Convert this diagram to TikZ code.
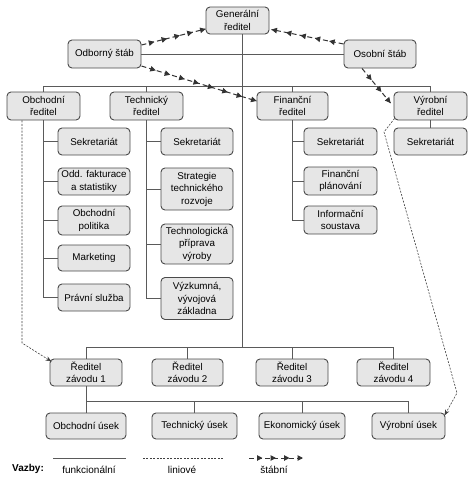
\documentclass[tikz,border=0pt]{standalone}
\usepackage{fontspec}
\setmainfont{Liberation Sans}
\usetikzlibrary{arrows.meta,decorations.markings,calc}
\definecolor{boxfill}{HTML}{E6E6E6}
\definecolor{boxline}{HTML}{4A4A4A}
\definecolor{lnc}{HTML}{5A5A5A}
\begin{document}
\begin{tikzpicture}[x=1pt,y=-1pt,
  box/.style={draw=boxline, fill=boxfill, rounded corners=4pt, line width=0.9pt, align=center, inner sep=1pt, font=\fontsize{9.8}{12.5}\selectfont},
  func/.style={draw=lnc, line width=0.8pt},
  lin/.style={draw=black!75, line width=0.6pt, dash pattern=on 2pt off 1.4pt, -{Stealth[length=6pt,width=4.5pt]}},
  stab/.style={draw=black!80, line width=1pt, dash pattern=on 5pt off 3pt, postaction={decorate},
    decoration={markings,
      mark=between positions #1 and 0.97 step #1 with {\arrow{Triangle[length=5.5pt,width=5.5pt]}},
      mark=at position 1 with {\arrow{Triangle[length=5.5pt,width=5.5pt]}}}},
  lbl/.style={font=\fontsize{10}{12}\selectfont, inner sep=0pt}
]
\useasboundingbox (0,0) rectangle (474,482);

% top level
\node[box, minimum width=63pt, minimum height=27pt] (gen) at (237.5,20.5) {Generální\\ředitel};
\node[box, minimum width=73pt, minimum height=28pt] (odb) at (104.5,54) {Odborný štáb};
\node[box, minimum width=72pt, minimum height=28pt] (oso) at (380,54) {Osobní štáb};

% directors
\node[box, minimum width=73pt, minimum height=28pt] (obr) at (43.5,106) {Obchodní\\ředitel};
\node[box, minimum width=73pt, minimum height=28pt] (tech) at (146.5,106) {Technický\\ředitel};
\node[box, minimum width=71pt, minimum height=28pt] (fin) at (292.5,106) {Finanční\\ředitel};
\node[box, minimum width=73pt, minimum height=28pt] (vyr) at (430.5,106) {Výrobní\\ředitel};

% Obchodni children
\node[box, minimum width=72pt, minimum height=27pt] (o1) at (94,141.5) {Sekretariát};
\node[box, minimum width=72pt, minimum height=27pt] (o2) at (94,181.5) {Odd. fakturace\\a statistiky};
\node[box, minimum width=72pt, minimum height=29pt] (o3) at (94,220.5) {Obchodní\\politika};
\node[box, minimum width=72pt, minimum height=26pt] (o4) at (94,258) {Marketing};
\node[box, minimum width=72pt, minimum height=27pt] (o5) at (94,297.5) {Právní služba};

% Technicky children
\node[box, minimum width=72pt, minimum height=27pt] (t1) at (197,141.5) {Sekretariát};
\node[box, minimum width=72pt, minimum height=42pt] (t2) at (197,189) {Strategie\\technického\\rozvoje};
\node[box, minimum width=72pt, minimum height=40pt] (t3) at (197,244) {Technologická\\příprava\\výroby};
\node[box, minimum width=72pt, minimum height=42pt] (t4) at (197,298.5) {Výzkumná,\\vývojová\\základna};

% Financni children
\node[box, minimum width=73pt, minimum height=27pt] (f1) at (340.5,141.5) {Sekretariát};
\node[box, minimum width=73pt, minimum height=28pt] (f2) at (340.5,181) {Finanční\\plánování};
\node[box, minimum width=73pt, minimum height=28pt] (f3) at (340.5,220) {Informační\\soustava};

% Vyrobni child
\node[box, minimum width=73pt, minimum height=27pt] (v1) at (430.5,141.5) {Sekretariát};

% plant directors
\node[box, minimum width=72pt, minimum height=27pt] (r1) at (86,372.5) {Ředitel\\závodu 1};
\node[box, minimum width=71pt, minimum height=27pt] (r2) at (187.5,372.5) {Ředitel\\závodu 2};
\node[box, minimum width=72pt, minimum height=27pt] (r3) at (292,372.5) {Ředitel\\závodu 3};
\node[box, minimum width=73pt, minimum height=27pt] (r4) at (393.5,372.5) {Ředitel\\závodu 4};

% sections
\node[box, minimum width=80pt, minimum height=26pt] (u1) at (86,426) {Obchodní úsek};
\node[box, minimum width=85pt, minimum height=26pt] (u2) at (194.5,426) {Technický úsek};
\node[box, minimum width=86pt, minimum height=26pt] (u3) at (302,426) {Ekonomický úsek};
\node[box, minimum width=73pt, minimum height=26pt] (u4) at (408.5,426) {Výrobní úsek};

% bus coordinates
\coordinate (b1) at (242,86);
\coordinate (b2) at (242,347);
\coordinate (b3) at (86,401);

% functional lines
\draw[func] (odb.east) -- (oso.west);
\draw[func] (gen.south -| b1) -- (b2);
\draw[func] (obr.north) -- (obr.north |- b1) -- (vyr.north |- b1) -- (vyr.north);
\draw[func] (tech.north |- b1) -- (tech.north);
\draw[func] (fin.north |- b1) -- (fin.north);
\foreach \c in {o1,o2,o3,o4,o5} \draw[func] (obr.south) |- (\c.west);
\foreach \c in {t1,t2,t3,t4} \draw[func] (tech.south) |- (\c.west);
\foreach \c in {f1,f2,f3} \draw[func] (fin.south) |- (\c.west);
\draw[func] (vyr.south) -- (v1.north);
\draw[func] (r1.north) -- (r1.north |- b2) -- (r4.north |- b2) -- (r4.north);
\draw[func] (r2.north |- b2) -- (r2.north);
\draw[func] (r3.north |- b2) -- (r3.north);
\draw[func] (r1.south) -- (b3) -- (u4.north |- b3) -- (u4.north);
\draw[func] (u1.north |- b3) -- (u1.north);
\draw[func] (u2.north |- b3) -- (u2.north);
\draw[func] (u3.north |- b3) -- (u3.north);

% line (liniove) links
\coordinate (l1) at (22,343);
\draw[lin] (obr.south -| l1) -- (l1) -- ($(r1.north west)+(2,3)$);
\coordinate (l2) at (384,132);
\coordinate (l3) at (457,393);
\draw[lin] ($(vyr.south west)+(1,-2)$) -- (l2) -- (l3) -- ($(u4.north east)+(-1,3)$);

% staff links
\draw[stab=0.2] ($(odb.east)+(0,-9)$) -- ($(gen.west)+(0,8.5)$);
\draw[stab=0.2] ($(oso.west)+(0,-10)$) -- ($(gen.east)+(2,9)$);
\draw[stab=0.125] ($(odb.east)+(0,12)$) -- ($(fin.west)+(0,-5)$);
\draw[stab=0.34] ($(oso.south)+(-18,0)$) -- ($(vyr.west)+(-3,-3)$);

% legend
\node[lbl, font=\fontsize{10}{12}\selectfont\bfseries] (vz) at (28,469) {Vazby:};
\coordinate (la1) at (53,458); \coordinate (la2) at (126,458);
\draw[func] (la1) -- (la2);
\node[lbl] (lf) at (89,469.5) {funkcionální};
\coordinate (lb1) at (143,458); \coordinate (lb2) at (223,458);
\draw[draw=black!75, line width=0.6pt, dash pattern=on 2pt off 1.4pt] (lb1) -- (lb2);
\node[lbl] (ll) at (182,469.5) {liniové};
\coordinate (lc1) at (249,458); \coordinate (lc2) at (303,458);
\draw[stab=0.25] (lc1) -- (lc2);
\node[lbl] (ls) at (274,469.5) {štábní};
\end{tikzpicture}
\end{document}
